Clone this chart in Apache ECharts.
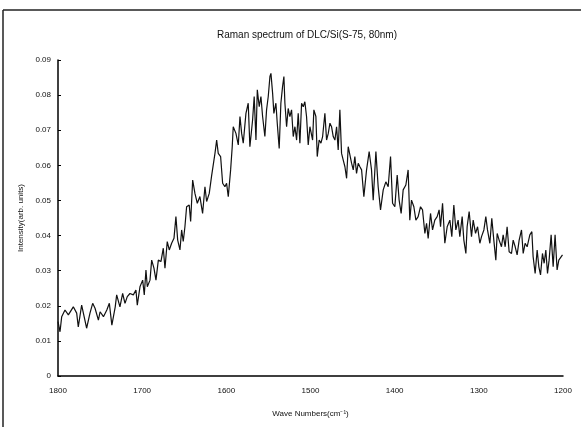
<!DOCTYPE html>
<html>
<head>
<meta charset="utf-8">
<script src="https://cdn.jsdelivr.net/npm/echarts@6/dist/echarts.min.js"></script>
<style>
  html, body { margin: 0; padding: 0; background: #fff; }
  #chart { width: 581px; height: 427px; }
</style>
</head>
<body>
<div id="chart"></div>
<script>
// Raman spectrum, wave number (cm^-1) against intensity (arb. units)
const wave = [
  1800, 1797.6, 1795.6, 1791.7, 1787.7, 1781.8, 1777.8, 1775.9, 1771.9, 1770.0,
  1766.0, 1762.0, 1758.8, 1756.0, 1752.0, 1750.0, 1746.0, 1742.0, 1739.0, 1736.0,
  1732.0, 1730.3, 1726.4, 1723.2, 1720.4, 1717.7, 1714.5, 1710.5, 1707.4, 1705.8,
  1702.6, 1699.4, 1697.5, 1695.5, 1693.9, 1690.7, 1688.7, 1686.0, 1683.6, 1680.8,
  1677.7, 1674.9, 1672.9, 1670.2, 1667.8, 1665.0, 1662.2, 1659.9, 1657.8, 1655.1,
  1653.1, 1651.2, 1649.2, 1647.2, 1644.1, 1642.4, 1640.0, 1637.3, 1634.5, 1631.4,
  1628.2, 1625.4, 1623.4, 1620.3, 1617.5, 1613.5, 1611.5, 1609.6, 1606.8, 1604.4,
  1601.7, 1599.7, 1597.7, 1594.9, 1593.0, 1591.8, 1588.6, 1585.8, 1583.8, 1581.8,
  1579.9, 1576.7, 1574.0, 1572.0, 1568.8, 1566.9, 1564.8, 1563.2, 1560.9, 1558.9,
  1556.9, 1554.2, 1552.2, 1550.2, 1548.2, 1547.0, 1545.0, 1543.5, 1541.1, 1539.5,
  1537.2, 1535.2, 1533.2, 1531.6, 1530.4, 1528.4, 1526.5, 1524.5, 1522.5, 1520.5,
  1518.5, 1516.5, 1514.6, 1512.6, 1510.6, 1508.6, 1506.7, 1504.7, 1502.7, 1500.7,
  1497.5, 1496.0, 1493.6, 1492.0, 1489.7, 1487.6, 1485.6, 1482.9, 1480.9, 1478.9,
  1476.9, 1475.0, 1473.0, 1471.0, 1469.0, 1467.1, 1465.1, 1463.1, 1461.1, 1459.1,
  1457.1, 1455.2, 1453.2, 1451.2, 1449.2, 1447.3, 1445.3, 1443.3, 1441.3, 1439.3,
  1436.6, 1433.4, 1430.3, 1427.5, 1425.5, 1422.3, 1419.6, 1416.8, 1413.6, 1410.5,
  1407.7, 1404.9, 1402.5, 1399.8, 1397.0, 1394.7, 1392.3, 1389.9, 1386.7, 1384.0,
  1382.0, 1380.0, 1377.2, 1374.8, 1372.1, 1369.3, 1366.9, 1364.1, 1362.1, 1360.2,
  1357.4, 1355.0, 1352.3, 1349.5, 1347.2, 1345.5, 1343.1, 1340.4, 1337.6, 1334.4,
  1332.1, 1329.7, 1327.3, 1324.6, 1322.6, 1319.8, 1317.8, 1315.4, 1313.9, 1311.5,
  1308.7, 1306.7, 1303.9, 1301.5, 1298.8, 1296.8, 1294.0, 1291.7, 1289.7, 1286.9,
  1284.6, 1282.2, 1279.8, 1278.2, 1275.9, 1273.1, 1271.1, 1268.7, 1266.4, 1264.0,
  1261.2, 1259.2, 1256.8, 1254.5, 1252.1, 1249.3, 1247.3, 1245.0, 1242.6, 1239.4,
  1237.0, 1235.5, 1233.1, 1230.7, 1228.7, 1226.7, 1224.4, 1222.4, 1220.4, 1218.4,
  1216.5, 1214.1, 1211.7, 1209.4, 1207.0, 1205.0, 1203.0, 1200.6
];
const intensity = [
  0.0155, 0.0126, 0.0169, 0.0188, 0.0174, 0.0197, 0.0179, 0.0140, 0.0202, 0.0197,
  0.0136, 0.0179, 0.0207, 0.0193, 0.0159, 0.0183, 0.0169, 0.0188, 0.0207, 0.0145,
  0.0197, 0.0231, 0.0197, 0.0235, 0.0207, 0.0226, 0.0235, 0.0231, 0.0245, 0.0202,
  0.0254, 0.0273, 0.0231, 0.0302, 0.0254, 0.0273, 0.0330, 0.0307, 0.0273, 0.0330,
  0.0326, 0.0364, 0.0307, 0.0383, 0.0359, 0.0378, 0.0392, 0.0454, 0.0387, 0.0359,
  0.0416, 0.0383, 0.0425, 0.0482, 0.0487, 0.0440, 0.0558, 0.0520, 0.0492, 0.0511,
  0.0463, 0.0539, 0.0497, 0.0520, 0.0570, 0.0634, 0.0672, 0.0634, 0.0625, 0.0549,
  0.0539, 0.0549, 0.0511, 0.0587, 0.0653, 0.0710, 0.0691, 0.0658, 0.0739, 0.0691,
  0.0663, 0.0748, 0.0777, 0.0653, 0.0729, 0.0796, 0.0672, 0.0815, 0.0767, 0.0796,
  0.0739, 0.0682, 0.0758, 0.0796, 0.0853, 0.0862, 0.0805, 0.0748, 0.0777, 0.0720,
  0.0648, 0.0777, 0.0824, 0.0853, 0.0777, 0.0710, 0.0762, 0.0739, 0.0758, 0.0682,
  0.0710, 0.0672, 0.0748, 0.0663, 0.0777, 0.0767, 0.0781, 0.0739, 0.0658, 0.0710,
  0.0672, 0.0758, 0.0739, 0.0625, 0.0672, 0.0663, 0.0682, 0.0748, 0.0672, 0.0691,
  0.0720, 0.0710, 0.0682, 0.0672, 0.0710, 0.0644, 0.0758, 0.0634, 0.0615, 0.0596,
  0.0563, 0.0653, 0.0658, 0.0606, 0.0587, 0.0625, 0.0577, 0.0606, 0.0596, 0.0587,
  0.0511, 0.0587, 0.0639, 0.0587, 0.0501, 0.0639, 0.0539, 0.0473, 0.0530, 0.0553,
  0.0539, 0.0625, 0.0492, 0.0482, 0.0572, 0.0501, 0.0463, 0.0530, 0.0544, 0.0587,
  0.0444, 0.0501, 0.0482, 0.0444, 0.0454, 0.0482, 0.0473, 0.0406, 0.0435, 0.0392,
  0.0463, 0.0416, 0.0444, 0.0454, 0.0473, 0.0425, 0.0492, 0.0378, 0.0425, 0.0444,
  0.0397, 0.0487, 0.0416, 0.0444, 0.0397, 0.0454, 0.0387, 0.0349, 0.0425, 0.0468,
  0.0397, 0.0444, 0.0406, 0.0425, 0.0378, 0.0397, 0.0416, 0.0454, 0.0416, 0.0378,
  0.0449, 0.0387, 0.0330, 0.0406, 0.0387, 0.0368, 0.0402, 0.0368, 0.0425, 0.0354,
  0.0349, 0.0387, 0.0368, 0.0345, 0.0387, 0.0416, 0.0349, 0.0378, 0.0368, 0.0402,
  0.0411, 0.0340, 0.0292, 0.0359, 0.0311, 0.0288, 0.0349, 0.0321, 0.0359, 0.0292,
  0.0330, 0.0402, 0.0311, 0.0402, 0.0302, 0.0330, 0.0330, 0.0345
];
const xTicks = { min: 1200, max: 1800, step: 100 };
const yTicks = { min: 0, max: 0.09, step: 0.01 };

const titleText = 'Raman spectrum of DLC/Si(S-75, 80nm)';
const xName = 'Wave Numbers(cm\u207B\u00B9)';
const yName = 'Intensity(arb. units)';

const font = 'Liberation Sans, Arial, sans-serif';
const chart = echarts.init(document.getElementById('chart'), null, { renderer: 'canvas' });

chart.setOption({
  backgroundColor: '#ffffff',
  animation: false,
  title: {
    text: titleText,
    left: 302,
    top: 25,
    textAlign: 'center',
    textStyle: { fontFamily: font, fontSize: 10, fontWeight: 'normal', color: '#111' }
  },
  grid: { left: 58, right: 18, top: 60, bottom: 51, containLabel: false },
  xAxis: {
    type: 'value',
    inverse: true,
    min: xTicks.min,
    max: xTicks.max,
    interval: xTicks.step,
    name: xName,
    nameLocation: 'middle',
    nameGap: 34,
    nameTextStyle: { fontFamily: font, fontSize: 8, color: '#111' },
    axisLine: { lineStyle: { color: '#000', width: 1.5 } },
    axisTick: { show: false },
    splitLine: { show: false },
    axisLabel: {
      margin: 11,
      fontFamily: font, fontSize: 8, color: '#111',
      formatter: v => String(Math.round(v))
    }
  },
  yAxis: {
    type: 'value',
    min: yTicks.min,
    max: yTicks.max,
    interval: yTicks.step,
    name: yName,
    nameLocation: 'middle',
    nameGap: 33,
    nameTextStyle: { fontFamily: font, fontSize: 8, color: '#111' },
    axisLine: { show: true, lineStyle: { color: '#000', width: 1.5 } },
    axisTick: { show: true, inside: true, length: 3, lineStyle: { color: '#000' } },
    splitLine: { show: false },
    axisLabel: {
      margin: 7,
      fontFamily: font, fontSize: 8, color: '#111',
      formatter: v => (Math.abs(v) < 1e-9 ? '0' : v.toFixed(2))
    }
  },
  graphic: [
    // page frame: top rule and left rule
    { type: 'line', shape: { x1: 3, y1: 10, x2: 581, y2: 10 },
      style: { stroke: '#222', lineWidth: 1.5 } },
    { type: 'line', shape: { x1: 3, y1: 10, x2: 3, y2: 427 },
      style: { stroke: '#222', lineWidth: 1.5 } }
  ],
  series: [{
    type: 'line',
    data: wave.map((w, i) => [w, intensity[i]]),
    showSymbol: false,
    symbol: 'none',
    lineStyle: { color: '#111', width: 1.2 },
    silent: true
  }]
});
</script>
</body>
</html>
